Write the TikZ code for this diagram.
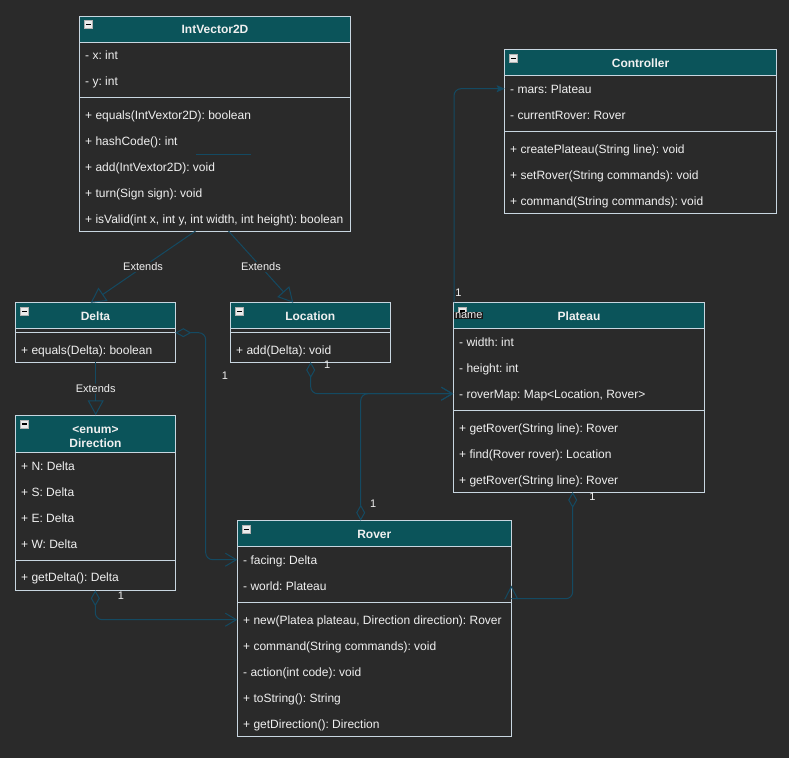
\documentclass[tikz,border=0pt]{standalone}
\usepackage{fontspec}
\setmainfont{Liberation Sans}
\usetikzlibrary{arrows.meta,calc}
\frenchspacing

\definecolor{canvas}{RGB}{42,42,42}
\definecolor{headteal}{RGB}{11,84,90}
\definecolor{frame}{RGB}{200,214,224}
\definecolor{wire}{RGB}{20,74,98}
\definecolor{ink}{RGB}{240,240,240}
\definecolor{tagbg}{RGB}{24,24,24}

% class box: name, x, y, width, height, header height
\newcommand\umlclass[6]{%
  \node[classbody, minimum width=#4, minimum height=#5] (#1) at (#2,#3) {};
  \path[classhead] (#1.north west) rectangle ($(#1.north west)+(#4,#6)$);
  \node[minusicon] (#1-icon) at ($(#1.north west)+(9,8.5)$) {};
}
% compartment divider: class name, offset from top
\newcommand\sepline[2]{%
  \draw[divider] ($(#1.north west)+(0,#2)$) -- ($(#1.north east)+(0,#2)$);
}

\begin{document}
\begin{tikzpicture}[x=1pt,y=-1pt,
  classbody/.style={draw=frame, fill=canvas, line width=1pt, inner sep=0pt, outer sep=0pt, anchor=north west},
  classhead/.style={draw=frame, fill=headteal, line width=1pt},
  divider/.style={draw=frame, line width=1pt},
  row/.style={anchor=west, text=ink, inner sep=0pt, text height=9pt, text depth=2.5pt, yshift=-1.5pt,
    font=\fontsize{12}{14}\selectfont},
  title/.style={text=ink, inner sep=0pt, yshift=-0.8pt, font=\fontsize{12}{14}\selectfont\bfseries},
  minusicon/.style={draw=gray!60, fill=gray!15, line width=0.5pt, minimum size=8pt, inner sep=0pt,
    path picture={\draw[black, line width=1.4pt]
      ([xshift=1.6pt]path picture bounding box.west) -- ([xshift=-1.6pt]path picture bounding box.east);}},
  wireline/.style={draw=wire, line width=1pt, rounded corners=7pt},
  extlabel/.style={fill=canvas, text=ink, inner sep=1pt, font=\fontsize{11}{12}\selectfont},
  mult/.style={text=ink, inner sep=0pt, font=\fontsize{11}{12}\selectfont},
  agg/.style={{Diamond[open, length=16pt, width=9pt]}-{Straight Barb[length=11pt, width=13pt]}},
  gen/.style={-{Triangle[open, length=15pt, width=16pt]}},
]
\fill[canvas] (0,0) rectangle (789,758);
\useasboundingbox (0,0) rectangle (789,758);

% ---------------- IntVector2D
\umlclass{ivec}{79.5}{16}{271}{215}{26}
\sepline{ivec}{81.5}
\node[title] (ivec-title) at (215,29) {IntVector2D};
\node[row] (ivec-a1) at (85,55) {- x: int};
\node[row] (ivec-a2) at (85,81) {- y: int};
\node[row] (ivec-m1) at (85,114.5) {+ equals(IntVextor2D): boolean};
\node[row] (ivec-m2) at (85,140.5) {+ hashCode(): int};
\node[row] (ivec-m3) at (85,166.5) {+ add(IntVextor2D): void};
\node[row] (ivec-m4) at (85,192.5) {+ turn(Sign sign): void};
\node[row] (ivec-m5) at (85,218.5) {+ isValid(int x, int y, int width, int height): boolean};
\draw[draw=wire, line width=1pt] ($(ivec.north west)+(116.5,138.5)$) -- ++(55,0);

% ---------------- Controller
\umlclass{ctrl}{504.7}{49.7}{271.6}{163.3}{26}
\sepline{ctrl}{81.6}
\node[title] (ctrl-title) at (640.5,62.7) {Controller};
\node[row] (ctrl-a1) at (510,88.7) {- mars: Plateau};
\node[row] (ctrl-a2) at (510,114.7) {- currentRover: Rover};
\node[row] (ctrl-m1) at (510,148.7) {+ createPlateau(String line): void};
\node[row] (ctrl-m2) at (510,174.7) {+ setRover(String commands): void};
\node[row] (ctrl-m3) at (510,200.7) {+ command(String commands): void};

% ---------------- Delta
\umlclass{delta}{15.7}{302.7}{159.6}{59.3}{25.6}
\sepline{delta}{30}
\node[title] (delta-title) at (95.5,315.5) {Delta};
\node[row] (delta-m1) at (21,349.7) {+ equals(Delta): boolean};

% ---------------- Location
\umlclass{loc}{230.3}{302.7}{160}{59.3}{25.6}
\sepline{loc}{30}
\node[title] (loc-title) at (310.3,315.5) {Location};
\node[row] (loc-m1) at (236,349.7) {+ add(Delta): void};

% ---------------- Direction
\umlclass{dir}{15.3}{415.3}{160.4}{175}{37}
\sepline{dir}{145}
\node[title, align=center] (dir-title) at (95.5,436) {<enum>\\Direction};
\node[row] (dir-a1) at (21,465.3) {+ N: Delta};
\node[row] (dir-a2) at (21,491.3) {+ S: Delta};
\node[row] (dir-a3) at (21,517.3) {+ E: Delta};
\node[row] (dir-a4) at (21,543.3) {+ W: Delta};
\node[row] (dir-m1) at (21,577) {+ getDelta(): Delta};

% ---------------- Plateau
\umlclass{plat}{453.3}{302.3}{251.4}{189.7}{26}
\sepline{plat}{107.7}
\node[title] (plat-title) at (579,315.5) {Plateau};
\node[fill=tagbg, text=ink, anchor=west, inner xsep=0.6pt, inner ysep=0.8pt,
  font=\fontsize{11}{12}\selectfont] (plat-tag) at (454.2,315.5) {name};
\node[row] (plat-a1) at (459,341.7) {- width: int};
\node[row] (plat-a2) at (459,367.7) {- height: int};
\node[row] (plat-a3) at (459,393.7) {- roverMap: Map<Location, Rover>};
\node[row] (plat-m1) at (459,427.3) {+ getRover(String line): Rover};
\node[row] (plat-m2) at (459,453.3) {+ find(Rover rover): Location};
\node[row] (plat-m3) at (459,479.3) {+ getRover(String line): Rover};

% ---------------- Rover
\umlclass{rover}{237.3}{520.7}{274}{215.3}{25.6}
\sepline{rover}{81.6}
\node[title] (rover-title) at (374.3,533.5) {Rover};
\node[row] (rover-a1) at (243,559.7) {- facing: Delta};
\node[row] (rover-a2) at (243,585.7) {- world: Plateau};
\node[row] (rover-m1) at (243,619.7) {+ new(Platea plateau, Direction direction): Rover};
\node[row] (rover-m2) at (243,645.7) {+ command(String commands): void};
\node[row] (rover-m3) at (243,671.7) {- action(int code): void};
\node[row] (rover-m4) at (243,697.7) {+ toString(): String};
\node[row] (rover-m5) at (243,723.7) {+ getDirection(): Direction};

% ---------------- generalisations
\draw[wireline, gen] ($(ivec.south west)+(116,0)$) -- node[extlabel] (ext1) {Extends} ($(delta.north west)+(75,0)$);
\draw[wireline, gen] ($(ivec.south west)+(149,0)$) -- node[extlabel] (ext2) {Extends} ($(loc.north west)+(63,0)$);
\draw[wireline, gen] ($(delta.south west)+(80,0)$) -- node[extlabel] (ext3) {Extends} ($(dir.north west)+(80.4,0)$);

% ---------------- associations
\draw[wireline, -{Stealth[length=8pt, width=7pt, inset=1.5pt]}]
  ($(plat.north west)+(0.7,0)$) |- ($(ctrl.north west)+(0,39)$);
\node[mult] (m-plat-top) at (458.5,293) {1};

\draw[wireline, agg] ($(delta.north east)+(0,30)$) -- ++(30.4,0) |- ($(rover.north west)+(0,39)$);
\node[mult] (m-delta) at (225,376) {1};

\draw[wireline, agg] ($(dir.south west)+(80,0)$) |- ($(rover.north west)+(0,99)$);
\node[mult] (m-dir) at (121,596) {1};

\draw[wireline, agg] ($(loc.south west)+(80.4,0)$) |- ($(plat.north west)+(0,91.4)$);
\node[mult] (m-loc) at (327.3,365) {1};

\draw[wireline, agg] ($(rover.north west)+(123.4,0)$) |- ($(plat.north west)+(0,91.4)$);
\node[mult] (m-rover) at (373.3,504) {1};

\coordinate (rover-side) at ($(rover.north east)+(0,78)$);
\draw[wireline, {Diamond[open, length=16pt, width=9pt]}-] ($(plat.south west)+(119.4,0)$) |- (rover-side);
\draw[draw=wire, line width=1pt] ([xshift=-6.5pt,yshift=-0.5pt]rover-side) -- ([yshift=12pt]rover-side)
  -- ([xshift=6.5pt,yshift=-0.5pt]rover-side);
\node[mult] (m-plat-bot) at (592.3,496.7) {1};
\end{tikzpicture}
\end{document}
